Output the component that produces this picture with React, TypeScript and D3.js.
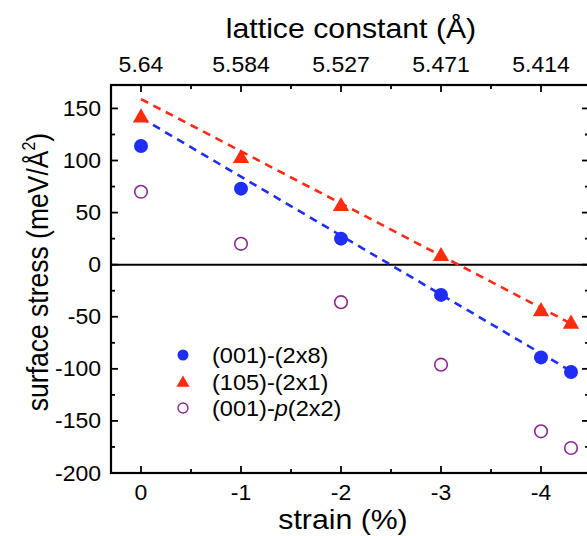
import { useEffect, useRef } from "react";
import * as d3 from "d3";

const strain = [0, -1, -2, -3, -4, -4.3];
const stress2x8 = [114, 73, 25, -29, -89, -103];
const stress105 = [142, 103, 57, 9, -44, -56];
const stressP2x2 = [70, 20, -36, -96, -160, -176];

const fitStrain = [0, -4.35];
const fit2x8 = [141, -105];
const fit105 = [159, -59];

const latticeStrain = [0, -1, -2, -3, -4];
const latticeLabels = ["5.64", "5.584", "5.527", "5.471", "5.414"];

const strainTicks = [0, -1, -2, -3, -4];
const stressTicks = [-200, -150, -100, -50, 0, 50, 100, 150];

const BLUE = "#1f2ef5";
const RED = "#ff2a12";
const PURPLE = "#8a2a90";
const FONT = "'Liberation Sans', Arial, sans-serif";
const SX = 1.07; // the reference text is a little wide

export default function App() {
  const ref = useRef<SVGSVGElement | null>(null);

  useEffect(() => {
    if (!ref.current) return;
    const svg = d3.select(ref.current);
    svg.selectAll("*").remove();

    const left = 111;
    const right = 589;
    const top = 85;
    const bottom = 473;

    const x = d3.scaleLinear().domain([0.3, -4.48]).range([left, right]);
    const y = d3.scaleLinear().domain([-200, 172.5]).range([bottom, top]);

    const g = svg.append("g");

    const label = (px: number, py: number, size: number, anchor: string, sx = SX) =>
      g.append("text")
        .attr("transform", `translate(${px},${py}) scale(${sx},1)`)
        .attr("text-anchor", anchor)
        .attr("font-family", FONT)
        .attr("font-size", size);

    // minor / major ticks, all pointing inward
    const halfTicks = d3.range(0.0, -4.6, -0.5).filter((v) => x(v) > left && x(v) < right);
    const quarterTicks = d3.range(-200, 175, 25);

    halfTicks.forEach((v) => {
      const major = Number.isInteger(v);
      const len = major ? 7 : 4;
      g.append("line").attr("x1", x(v)).attr("x2", x(v)).attr("y1", bottom).attr("y2", bottom - len)
        .attr("stroke", "#000").attr("stroke-width", 1.8);
      g.append("line").attr("x1", x(v)).attr("x2", x(v)).attr("y1", top).attr("y2", top + len)
        .attr("stroke", "#000").attr("stroke-width", 1.8);
    });
    quarterTicks.forEach((v) => {
      const major = v % 50 === 0;
      const len = major ? 7 : 4;
      g.append("line").attr("x1", left).attr("x2", left + len).attr("y1", y(v)).attr("y2", y(v))
        .attr("stroke", "#000").attr("stroke-width", 1.8);
      g.append("line").attr("x1", right).attr("x2", right - len).attr("y1", y(v)).attr("y2", y(v))
        .attr("stroke", "#000").attr("stroke-width", 1.8);
    });

    // frame
    g.append("rect").attr("x", left).attr("y", top).attr("width", right - left).attr("height", bottom - top)
      .attr("fill", "none").attr("stroke", "#000").attr("stroke-width", 2.2);

    // zero line
    g.append("line").attr("x1", left).attr("x2", right).attr("y1", y(0)).attr("y2", y(0))
      .attr("stroke", "#000").attr("stroke-width", 2);

    // tick labels
    strainTicks.forEach((d) => label(x(d), 500, 21.5, "middle").text(d === 0 ? "0" : String(d)));
    stressTicks.forEach((d) => label(101, y(d) + 7.5, 21.5, "end").text(String(d)));
    latticeStrain.forEach((d, i) => label(x(d), 72, 21.5, "middle").text(latticeLabels[i]));

    // axis titles
    label(343, 529, 27.5, "middle", 1.1).text("strain (%)");
    label(351, 38, 27.5, "middle", 1.1).text("lattice constant (Å)");

    const yt = g.append("text").attr("transform", `translate(48,272) rotate(-90) scale(1,1.1)`).attr("text-anchor", "middle")
      .attr("font-family", FONT).attr("font-size", 26.5);
    yt.append("tspan").text("surface stress (meV/Å");
    yt.append("tspan").attr("font-size", 16).attr("dy", -12).text("2");
    yt.append("tspan").attr("dy", 12).text(")");

    // fit lines
    const line = d3.line<number>().x((d, i) => x(fitStrain[i])).y((d) => y(d));
    g.append("path").datum(fit105).attr("d", line).attr("fill", "none").attr("stroke", RED)
      .attr("stroke-width", 2.6).attr("stroke-dasharray", "8 6");
    g.append("path").datum(fit2x8).attr("d", line).attr("fill", "none").attr("stroke", BLUE)
      .attr("stroke-width", 2.6).attr("stroke-dasharray", "8 6");

    // markers
    const tri = d3.symbol().type(d3.symbolTriangle).size(115);
    g.selectAll("circle.p22").data(stressP2x2).join("circle").attr("class", "p22")
      .attr("cx", (d, i) => x(strain[i])).attr("cy", (d) => y(d)).attr("r", 6.3)
      .attr("fill", "none").attr("stroke", PURPLE).attr("stroke-width", 1.6);
    g.selectAll("circle.b28").data(stress2x8).join("circle").attr("class", "b28")
      .attr("cx", (d, i) => x(strain[i])).attr("cy", (d) => y(d)).attr("r", 7).attr("fill", BLUE);
    g.selectAll("path.r105").data(stress105).join("path").attr("class", "r105")
      .attr("transform", (d, i) => `translate(${x(strain[i])},${y(d) + 1})`).attr("d", tri).attr("fill", RED);

    // legend
    const rows = [
      { y: 355, label: "(001)-(2x8)" },
      { y: 382, label: "(105)-(2x1)" },
      { y: 408, label: "(001)-p(2x2)" },
    ];
    g.append("circle").attr("cx", 183).attr("cy", rows[0].y).attr("r", 5.5).attr("fill", BLUE);
    g.append("path").attr("transform", `translate(183,${rows[1].y + 1})`)
      .attr("d", d3.symbol().type(d3.symbolTriangle).size(75)).attr("fill", RED);
    g.append("circle").attr("cx", 183).attr("cy", rows[2].y).attr("r", 5).attr("fill", "none")
      .attr("stroke", PURPLE).attr("stroke-width", 1.4);
    rows.forEach((r, i) => {
      const t = label(212, r.y + 7.5, 22, "start");
      if (i === 2) {
        t.append("tspan").text("(001)-");
        t.append("tspan").attr("font-style", "italic").text("p");
        t.append("tspan").text("(2x2)");
      } else {
        t.text(r.label);
      }
    });
  }, []);

  return (
    <svg
      ref={ref}
      width={587}
      height={536}
      style={{ position: "absolute", left: 0, top: 0, background: "#fff" }}
    />
  );
}
